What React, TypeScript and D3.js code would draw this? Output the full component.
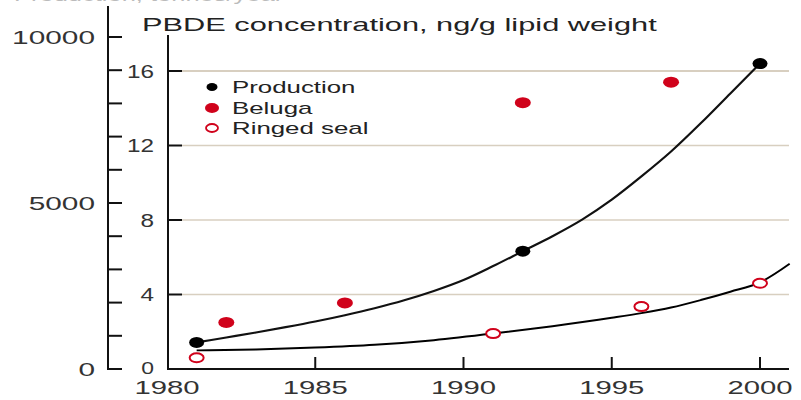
import React from "react";
import * as d3 from "d3";

// values
const productionYears = [1981, 1982, 1983, 1984, 1985, 1986, 1987, 1988, 1989, 1990, 1991, 1992, 1993, 1994, 1995, 1996, 1997, 1998, 1999, 2000];
const productionTonnes = [800, 950, 1100, 1260, 1430, 1620, 1830, 2070, 2350, 2680, 3100, 3550, 4000, 4500, 5100, 5800, 6550, 7400, 8300, 9200];
const productionDotYears = [1981, 1992, 2000];
const productionDotTonnes = [800, 3550, 9200];

const belugaYears = [1982, 1986, 1992, 1997];
const belugaValues = [2.5, 3.55, 14.3, 15.4];

const sealYears = [1981, 1991, 1996, 2000];
const sealValues = [0.6, 1.9, 3.35, 4.6];

const sealFitYears = [1981, 1983, 1985, 1987, 1989, 1991, 1993, 1995, 1996, 1997, 1998, 1999, 2000, 2001];
const sealFitValues = [1.0, 1.05, 1.15, 1.3, 1.55, 1.9, 2.3, 2.75, 3.0, 3.3, 3.7, 4.15, 4.65, 5.65];

const xTicks = [1980, 1985, 1990, 1995, 2000];
const innerTicks = [0, 4, 8, 12, 16];
const outerLabels = [0, 5000, 10000];

const legendItems = ["Production", "Beluga", "Ringed seal"];
const title = "PBDE concentration, ng/g lipid weight";
const cutTitle = "Production, tonnes/year";

const RED = "#d0021b";
const GRID = "#d8cfc0";
const FONT = "'Liberation Sans', Arial, sans-serif";

function Stretched({ x, y, sx, anchor = "start", size, fill = "#333", children }) {
  return (
    <text
      transform={`translate(${x},${y}) scale(${sx},1)`}
      textAnchor={anchor}
      fontSize={size}
      fill={fill}
      fontFamily={FONT}
    >
      {children}
    </text>
  );
}

export default function App() {
  const x = d3.scaleLinear().domain([1980, 2000]).range([167, 760]);
  const yIn = d3.scaleLinear().domain([0, 16]).range([369, 71]);
  const yOut = d3.scaleLinear().domain([0, 10000]).range([369, 37]);

  const prodLine = d3
    .line<number>()
    .x((d, i) => x(productionYears[i]))
    .y((d) => yOut(d))
    .curve(d3.curveMonotoneX);

  const fitLine = d3
    .line<number>()
    .x((d, i) => x(sealFitYears[i]))
    .y((d) => yIn(d))
    .curve(d3.curveMonotoneX);

  const outerAxisX = 108;
  const innerAxisX = 168;
  const right = 789;
  const base = yIn(0);

  return (
    <svg
      width={801}
      height={400}
      style={{ position: "absolute", left: 0, top: 0, background: "#fff" }}
    >
      {/* heading cut off by the top edge, only its lowest pixels show */}
      <Stretched x={14} y={1} sx={1.5} size={17} fill="#bbb">
        {cutTitle}
      </Stretched>

      {/* gridlines */}
      {innerTicks.filter((t) => t > 0).map((t) => (
        <line key={t} x1={innerAxisX + 14} x2={right} y1={yIn(t)} y2={yIn(t)} stroke={GRID} strokeWidth={t === 16 ? 2 : 1.3} />
      ))}

      {/* outer axis (tonnes) */}
      <line x1={outerAxisX} x2={outerAxisX} y1={6} y2={base + 1} stroke="#111" strokeWidth={2} />
      {d3.range(0, 10001, 1000).map((t) => (
        <line key={t} x1={outerAxisX} x2={outerAxisX + 14} y1={yOut(t)} y2={yOut(t)} stroke="#111" strokeWidth={2} />
      ))}
      {outerLabels.map((t) => (
        <Stretched key={t} x={95} y={yOut(t) + 7} sx={1.57} anchor="end" size={19}>
          {t}
        </Stretched>
      ))}

      {/* inner axis (ng/g) */}
      <line x1={innerAxisX} x2={innerAxisX} y1={35} y2={base + 1} stroke="#111" strokeWidth={2} />
      {innerTicks.map((t) => (
        <line key={t} x1={innerAxisX} x2={innerAxisX + 14} y1={yIn(t)} y2={yIn(t)} stroke="#111" strokeWidth={2} />
      ))}
      {innerTicks.map((t) => (
        <Stretched key={t} x={154} y={yIn(t) + (t === 0 ? 5 : 6.5)} sx={1.35} anchor="end" size={t === 0 ? 17 : 18}>
          {t}
        </Stretched>
      ))}

      {/* x axis */}
      <line x1={innerAxisX - 1} x2={right} y1={base} y2={base} stroke="#111" strokeWidth={2} />
      {xTicks.slice(1).map((t) => (
        <line key={t} x1={x(t)} x2={x(t)} y1={base - 12} y2={base} stroke="#111" strokeWidth={2} />
      ))}
      {xTicks.map((t) => (
        <Stretched key={t} x={x(t)} y={394} sx={1.54} anchor="middle" size={19}>
          {t}
        </Stretched>
      ))}

      {/* title */}
      <Stretched x={142} y={31} sx={1.62} size={19} fill="#222">
        {title}
      </Stretched>

      {/* curves */}
      <path d={prodLine(productionTonnes) ?? ""} fill="none" stroke="#111" strokeWidth={2.2} />
      <path d={fitLine(sealFitValues) ?? ""} fill="none" stroke="#000" strokeWidth={2} />

      {/* points */}
      {productionDotTonnes.map((v, i) => (
        <ellipse key={"p" + i} cx={x(productionDotYears[i])} cy={yOut(v)} rx={7.5} ry={5.5} fill="#000" />
      ))}
      {belugaValues.map((v, i) => (
        <ellipse key={"b" + i} cx={x(belugaYears[i])} cy={yIn(v)} rx={8} ry={5.5} fill={RED} />
      ))}
      {sealValues.map((v, i) => (
        <ellipse key={"s" + i} cx={x(sealYears[i])} cy={yIn(v)} rx={7} ry={4.5} fill="#fff" stroke={RED} strokeWidth={2} />
      ))}

      {/* legend */}
      <g>
        <ellipse cx={212} cy={87} rx={5.5} ry={4} fill="#000" />
        <ellipse cx={212} cy={108} rx={7} ry={5} fill={RED} />
        <ellipse cx={212} cy={128} rx={6} ry={4} fill="#fff" stroke={RED} strokeWidth={1.8} />
        {legendItems.map((name, i) => (
          <Stretched key={name} x={232} y={[93, 114, 134][i]} sx={1.52} size={17} fill="#222">
            {name}
          </Stretched>
        ))}
      </g>
    </svg>
  );
}
